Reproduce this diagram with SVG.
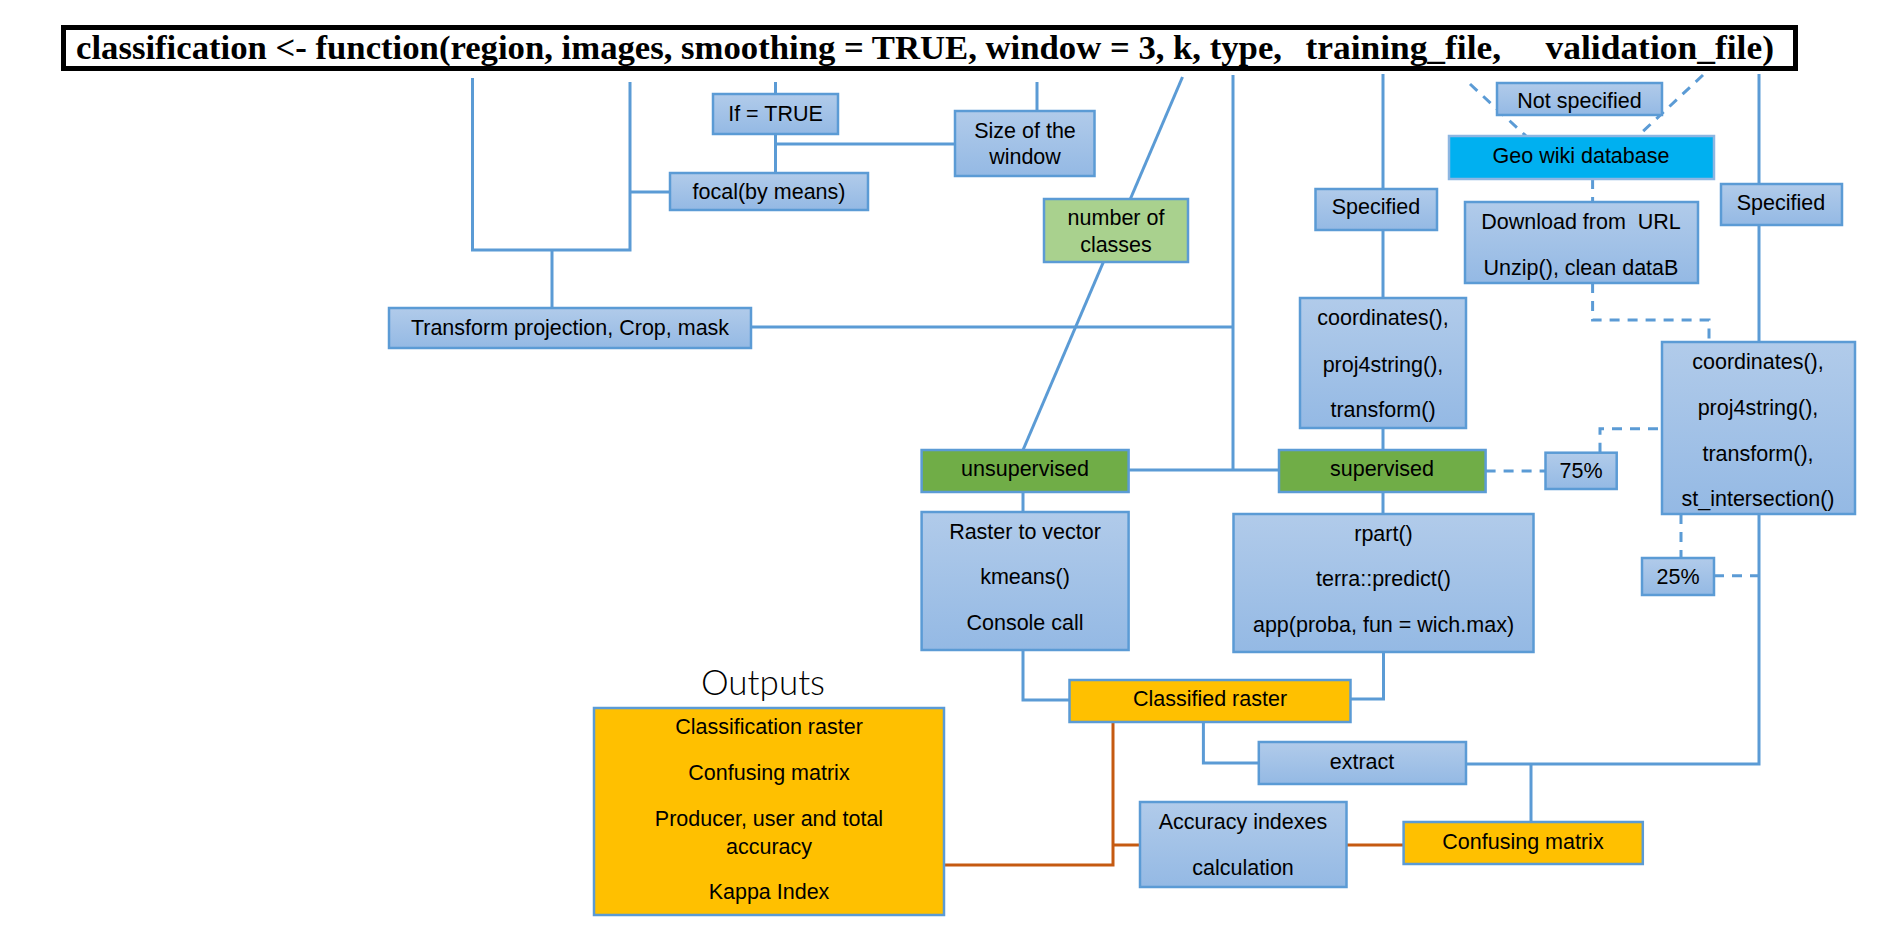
<svg xmlns="http://www.w3.org/2000/svg" width="1882" height="928" viewBox="0 0 1882 928">
<defs>
<linearGradient id="gb" x1="0" y1="0" x2="0" y2="1">
<stop offset="0" stop-color="#B1CBEA"/>
<stop offset="1" stop-color="#94B9E4"/>
</linearGradient>
<style>
.box{fill:url(#gb);stroke:#5B9BD5;stroke-width:2.5}
.grn{fill:#70AD47;stroke:#5B9BD5;stroke-width:2.5}
.lgrn{fill:#A9D18E;stroke:#5B9BD5;stroke-width:2.5}
.org{fill:#FFC000;stroke:#5B9BD5;stroke-width:2.5}
.cyan{fill:#00B0F0;stroke:#8DB6E2;stroke-width:2.5}
.ln{fill:none;stroke:#5B9BD5;stroke-width:3}
.dsh{stroke-dasharray:10 8}
.oln{fill:none;stroke:#C55A11;stroke-width:3}
text{font-family:"Liberation Sans",Arial,sans-serif;font-size:21.5px;text-anchor:middle;fill:#000}
.ttl{font-family:"Liberation Serif","Times New Roman",serif;font-weight:bold;font-size:33px;text-anchor:start}
.big{font-family:Lato,"Liberation Sans",sans-serif;font-weight:300;font-size:35px}
</style>
</defs>
<rect width="1882" height="928" fill="#fff"/>

<g id="connectors">
<path class="ln" d="M472.5,78 V250 H630 V82"/>
<path class="ln" d="M552,250 V308"/>
<path class="ln" d="M630,192 H670"/>
<path class="ln" d="M775.5,82 V94"/>
<path class="ln" d="M775.5,134 V173"/>
<path class="ln" d="M775.5,144 H955"/>
<path class="ln" d="M1037,82 V111"/>
<path class="ln" d="M1182.5,77 L1023,450"/>
<path class="ln" d="M751,327 H1233"/>
<path class="ln" d="M1233,75 V470"/>
<path class="ln" d="M1128.6,470 H1279"/>
<path class="ln" d="M1383,74 V189 M1383,230 V298 M1383,428 V450 M1383,492 V514"/>
<path class="ln" d="M1023,492 V512"/>
<path class="ln" d="M1023,650 V700 H1069.5"/>
<path class="ln" d="M1383.5,652 V699 H1350.5"/>
<path class="ln" d="M1203.4,722 V763 H1258.8"/>
<path class="ln" d="M1466,764 H1759 V514"/>
<path class="ln" d="M1759,74 V184 M1759,225 V342"/>
<path class="ln" d="M1531,764 V822"/>
<path class="ln dsh" d="M1470,84 L1526,136"/>
<path class="ln dsh" d="M1703,75 L1638,136"/>
<path class="ln dsh" d="M1592.6,179 V202"/>
<path class="ln dsh" d="M1592.6,283 V320 H1709 V342"/>
<path class="ln dsh" d="M1485.6,471 H1545.5"/>
<path class="ln dsh" d="M1600,452.7 V428.7 H1662"/>
<path class="ln dsh" d="M1681,514 V558"/>
<path class="ln dsh" d="M1714,575.7 H1759"/>
<path class="oln" d="M1113,722 V865 H944"/>
<path class="oln" d="M1113,845 H1140"/>
<path class="oln" d="M1346.5,845 H1403.6"/>
</g>

<g id="title">
<rect x="63.5" y="27.5" width="1732" height="41" fill="#fff" stroke="#000" stroke-width="5"/>
<text class="ttl" x="76" y="59" textLength="1206" lengthAdjust="spacingAndGlyphs">classification &lt;- function(region, images, smoothing = TRUE, window = 3, k, type,</text>
<text class="ttl" x="1305.5" y="59" textLength="195.5" lengthAdjust="spacingAndGlyphs">training_file,</text>
<text class="ttl" x="1545.5" y="59" textLength="228.5" lengthAdjust="spacingAndGlyphs">validation_file)</text>
</g>

<g id="if-true"><rect class="box" x="713" y="94" width="125" height="40"/><text x="775.5" y="121">If = TRUE</text></g>
<g id="size-window"><rect class="box" x="955" y="111" width="139.5" height="65"/><text x="1025" y="138">Size of the</text><text x="1025" y="164">window</text></g>
<g id="focal"><rect class="box" x="670" y="173" width="198" height="37"/><text x="769" y="199">focal(by means)</text></g>
<g id="num-classes"><rect class="lgrn" x="1044" y="199" width="144" height="63"/><text x="1116" y="225">number of</text><text x="1116" y="252">classes</text></g>
<g id="transform"><rect class="box" x="389" y="308" width="362" height="40"/><text x="570" y="335">Transform projection, Crop, mask</text></g>
<g id="not-specified"><rect class="box" x="1497" y="83" width="165" height="32"/><text x="1579.5" y="108">Not specified</text></g>
<g id="geowiki"><rect class="cyan" x="1449" y="136" width="265" height="43"/><text x="1581" y="163">Geo wiki database</text></g>
<g id="download"><rect class="box" x="1465" y="202" width="233" height="81"/><text x="1581" y="229" xml:space="preserve">Download from  URL</text><text x="1581" y="275">Unzip(), clean dataB</text></g>
<g id="specified-train"><rect class="box" x="1315.5" y="189" width="121.5" height="41"/><text x="1376" y="214">Specified</text></g>
<g id="specified-valid"><rect class="box" x="1721" y="184" width="121" height="41"/><text x="1781" y="210">Specified</text></g>
<g id="coords-train"><rect class="box" x="1300" y="298" width="166" height="130"/><text x="1383" y="325">coordinates(),</text><text x="1383" y="372">proj4string(),</text><text x="1383" y="417">transform()</text></g>
<g id="unsupervised"><rect class="grn" x="921.6" y="450" width="207" height="42"/><text x="1025" y="476">unsupervised</text></g>
<g id="supervised"><rect class="grn" x="1279" y="450" width="206.6" height="42"/><text x="1382" y="476">supervised</text></g>
<g id="p75"><rect class="box" x="1545.5" y="452.7" width="71.2" height="36.3"/><text x="1581" y="478">75%</text></g>
<g id="coords-valid"><rect class="box" x="1662" y="342" width="193" height="172"/><text x="1758" y="369">coordinates(),</text><text x="1758" y="415">proj4string(),</text><text x="1758" y="461">transform(),</text><text x="1758" y="506">st_intersection()</text></g>
<g id="p25"><rect class="box" x="1642" y="558" width="72" height="37"/><text x="1678" y="584">25%</text></g>
<g id="raster-kmeans"><rect class="box" x="921.6" y="512" width="207" height="138"/><text x="1025" y="539">Raster to vector</text><text x="1025" y="584">kmeans()</text><text x="1025" y="630">Console call</text></g>
<g id="rpart"><rect class="box" x="1233.5" y="514" width="300" height="138"/><text x="1383.5" y="541">rpart()</text><text x="1383.5" y="586">terra::predict()</text><text x="1383.5" y="632">app(proba, fun = wich.max)</text></g>
<g id="classified-raster"><rect class="org" x="1069.5" y="680" width="281" height="42"/><text x="1210" y="706">Classified raster</text></g>
<g id="extract"><rect class="box" x="1258.8" y="742" width="207.2" height="42"/><text x="1362" y="769">extract</text></g>
<g id="accuracy"><rect class="box" x="1140" y="802" width="206.5" height="85"/><text x="1243" y="829">Accuracy indexes</text><text x="1243" y="875">calculation</text></g>
<g id="confusing-matrix"><rect class="org" x="1403.6" y="822" width="239.2" height="42"/><text x="1523" y="849">Confusing matrix</text></g>
<g id="outputs">
<text class="big" x="763" y="695">Outputs</text>
<rect class="org" x="594" y="708" width="350" height="207"/>
<text x="769" y="734">Classification raster</text>
<text x="769" y="780">Confusing matrix</text>
<text x="769" y="826">Producer, user and total</text>
<text x="769" y="854">accuracy</text>
<text x="769" y="899">Kappa Index</text>
</g>
</svg>
